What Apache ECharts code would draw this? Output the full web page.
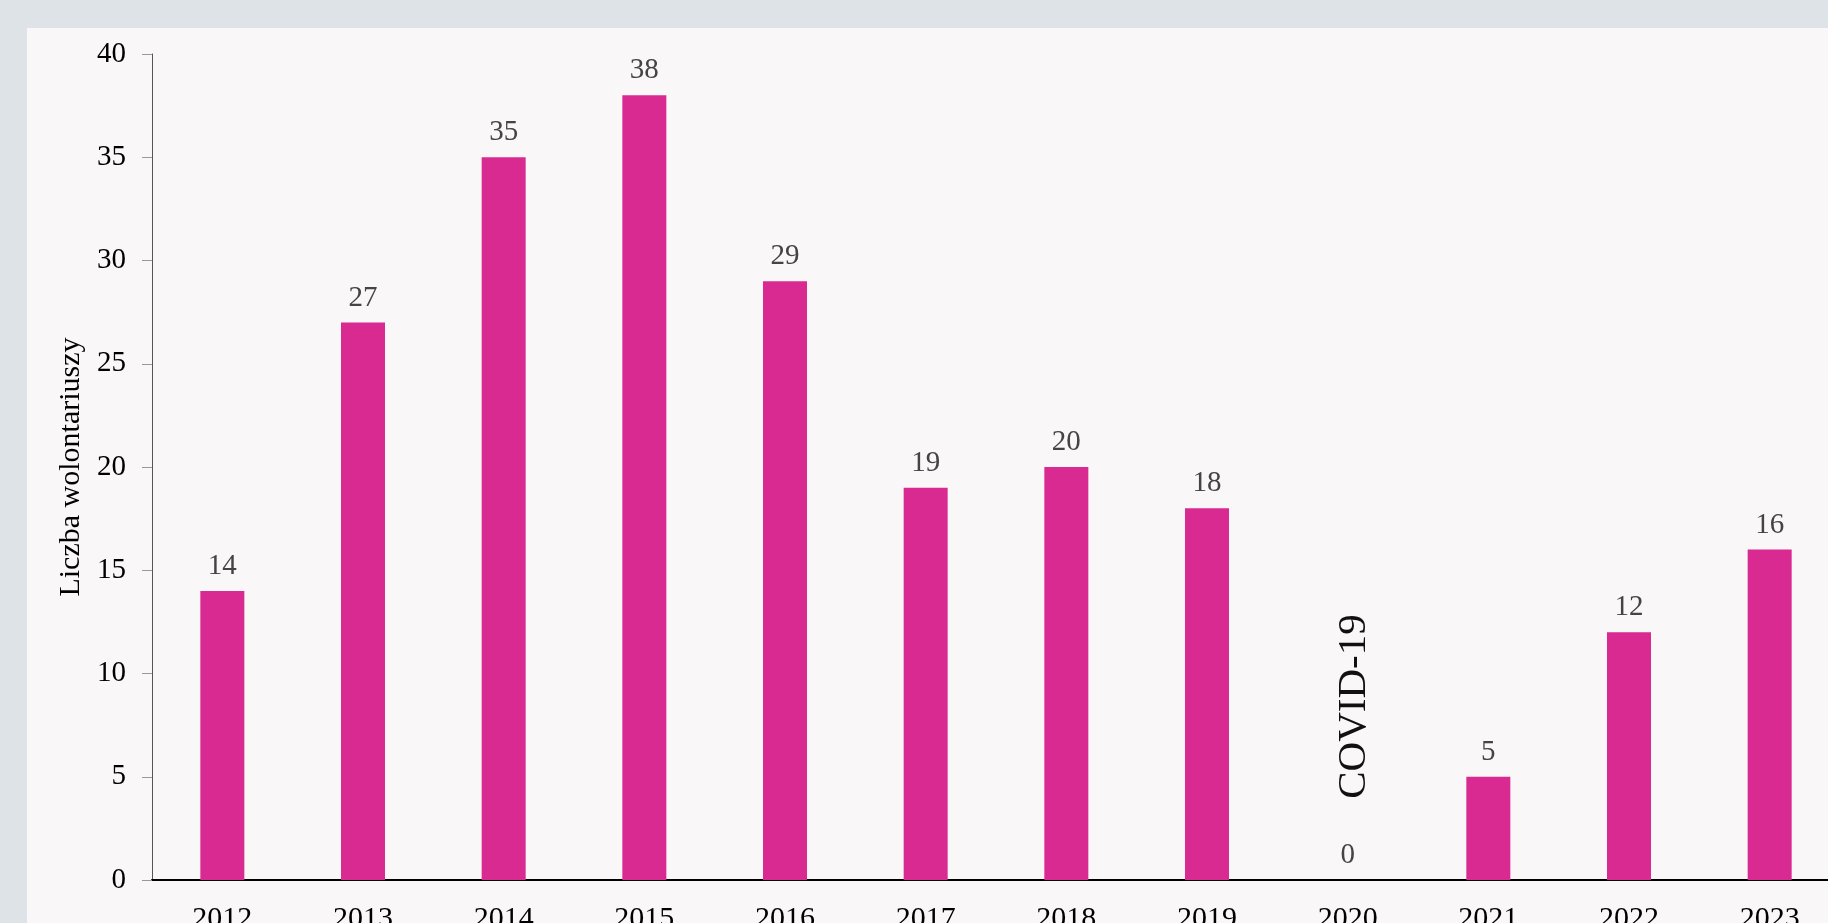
<!DOCTYPE html>
<html>
<head>
<meta charset="utf-8">
<script src="https://cdn.jsdelivr.net/npm/echarts@6/dist/echarts.min.js"></script>
<style>
	html, body { margin: 0; padding: 0; width: 1828px; height: 923px; overflow: hidden; background: #dde3e7; }
	#chart { position: absolute; left: 27px; top: 28px; width: 1860px; height: 960px; }
</style>
</head>
<body>
<div id="chart"></div>
<script>
// lata i liczba wolontariuszy
const years = ['2012', '2013', '2014', '2015', '2016', '2017', '2018', '2019', '2020', '2021', '2022', '2023'];
const volunteers = [14, 27, 35, 38, 29, 19, 20, 18, 0, 5, 12, 16];
const yMin = 0;
const yMax = 40;
const yStep = 5;
const axisName = 'Liczba wolontariuszy';
const noteText = 'COVID-19';
const noteYear = '2020';

const serif = "'Liberation Serif', 'DejaVu Serif', serif";

var myChart = echarts.init(document.getElementById('chart'));
var option = {
	backgroundColor: '#f9f7f8',
	animation: false,
	grid: {
		left: 125,
		top: 26,
		width: 1688,
		height: 826
	},
	xAxis: {
		type: 'category',
		data: years,
		axisLine: { lineStyle: { color: '#000', width: 2 } },
		axisTick: { length: 9, lineStyle: { color: '#333' } },
		axisLabel: { margin: 24, color: '#000', fontSize: 30, fontFamily: serif }
	},
	yAxis: {
		type: 'value',
		min: yMin,
		max: yMax,
		interval: yStep,
		name: axisName,
		nameLocation: 'middle',
		nameGap: 62,
		nameTextStyle: { color: '#000', fontSize: 30, fontFamily: serif },
		axisLine: { show: true, lineStyle: { color: '#555', width: 1 } },
		axisTick: { show: true, length: 10, lineStyle: { color: '#999' } },
		axisLabel: { margin: 26, color: '#000', fontSize: 29, fontFamily: serif },
		splitLine: { show: false }
	},
	series: [{
		type: 'bar',
		data: volunteers,
		barWidth: 44,
		itemStyle: { color: '#d82a91' },
		label: {
			show: true,
			position: 'top',
			distance: 10,
			color: '#444',
			fontSize: 29,
			fontFamily: serif
		},
		markPoint: {
			symbol: 'rect',
			symbolSize: 0,
			symbolOffset: [7, 0],
			silent: true,
			label: {
				show: true,
				position: 'inside',
				formatter: noteText,
				rotate: 90,
				color: '#111',
				fontSize: 41,
				fontFamily: serif
			},
			data: [{ coord: [noteYear, 8.4] }]
		}
	}]
};
myChart.setOption(option);
</script>
</body>
</html>
